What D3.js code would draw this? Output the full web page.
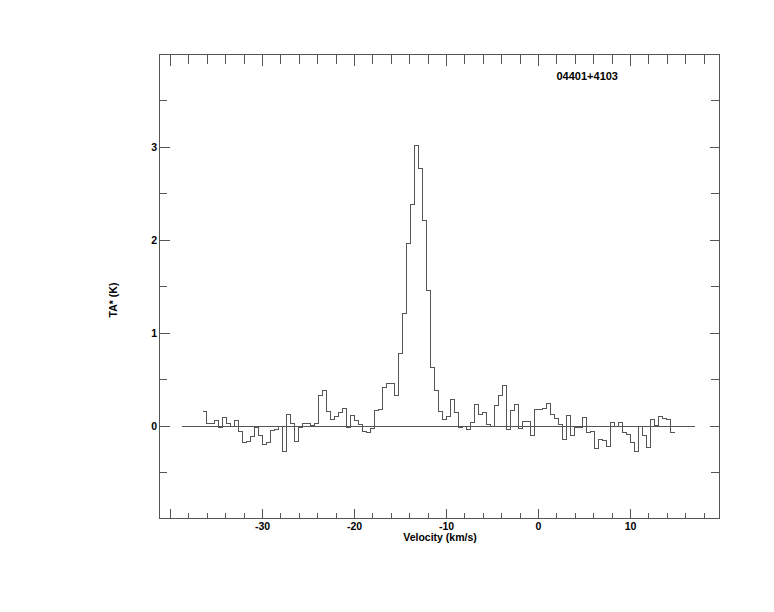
<!DOCTYPE html>
<html><head><meta charset="utf-8">
<script src="https://cdn.jsdelivr.net/npm/d3@7"></script>
<style>
html,body{margin:0;padding:0;background:#fff;}
text{font-family:"Liberation Sans",Arial,sans-serif;font-weight:bold;fill:#000;}
</style></head>
<body>
<script>
// ---- data ----
const sourceName = "04401+4103";
const xLabel = "Velocity (km/s)";
const yLabel = "TA* (K)";
const xTickLabels = [-30, -20, -10, 0, 10];
const yTickLabels = [0, 1, 2, 3];
const xMinorTicks = [-40,-38,-36,-34,-32,-30,-28,-26,-24,-22,-20,-18,-16,-14,-12,-10,-8,-6,-4,-2,0,2,4,6,8,10,12,14,16,18];
const yMinorTicks = [-0.5, 0, 0.5, 1, 1.5, 2, 2.5, 3, 3.5];
const baselineRange = [-38.7, 17.0];
const firstChannelEdge = -36.52;   // km/s, left edge of first channel
const channelWidth = 0.4348;       // km/s
const intensity = [
 0.16,0.03,0.03,0.065,-0.01,0.10,0.03,0.0,0.065,-0.054,
 -0.17,-0.16,-0.11,-0.01,-0.10,-0.19,-0.17,-0.043,-0.03,0.0,
 -0.27,0.13,0.03,-0.16,-0.01,0.03,0.03,0.01,0.03,0.334,
 0.39,0.16,0.075,0.11,0.15,0.19,-0.01,0.12,0.065,0.02,
 -0.054,-0.065,-0.02,0.17,0.18,0.42,0.46,0.46,0.33,0.78,
 1.22,1.97,2.39,3.02,2.77,2.21,1.46,0.63,0.39,0.16,
 0.075,0.11,0.29,0.15,-0.01,0.0,-0.03,0.043,0.237,0.13,
 0.15,0.02,0.0,0.226,0.334,0.44,-0.03,0.17,0.237,-0.02,
 0.054,0.054,-0.097,0.18,0.18,0.19,0.25,0.13,0.086,0.02,
 -0.14,0.12,-0.097,-0.01,-0.01,0.10,-0.065,-0.054,-0.24,-0.14,
 -0.15,-0.215,0.043,0.0,0.043,-0.065,-0.086,-0.17,-0.27,0.0,
 -0.097,-0.226,0.075,0.01,0.11,0.086,0.075,-0.065
];

// ---- layout ----
const W = 774, H = 612;
const L = 159.5, R = 719.5, T = 54.5, B = 518.5;
const col = "#555";

const svg = d3.select("body").append("svg").attr("width", W).attr("height", H);

const x = d3.scaleLinear().domain([(L-538.5)/9.2, (R-538.5)/9.2]).range([L, R]);
const y = d3.scaleLinear().domain([-0.99, 4.0]).range([B, T]);

// frame
svg.append("rect").attr("x", L).attr("y", T).attr("width", R-L).attr("height", B-T)
  .attr("fill", "none").attr("stroke", col).attr("stroke-width", 1);

const g = svg.append("g").attr("stroke", col).attr("stroke-width", 1).attr("shape-rendering", "crispEdges");

const isMajorX = v => Math.abs(v % 10) < 1e-9;
const isMajorY = v => Math.abs(v - Math.round(v)) < 1e-9;

// bottom + top x ticks
xMinorTicks.filter(v => x(v) > L + 1 && x(v) < R - 1).forEach(v => {
  const px = Math.round(x(v) - 0.5) + 0.5;
  const maj = isMajorX(v);
  g.append("line").attr("x1", px).attr("x2", px).attr("y1", B).attr("y2", B - (maj ? 10 : 6));
  g.append("line").attr("x1", px).attr("x2", px).attr("y1", T).attr("y2", T + (maj ? 11 : 9));
});
// left + right y ticks
yMinorTicks.forEach(v => {
  const py = Math.round(y(v) - 0.5) + 0.5;
  const maj = isMajorY(v);
  g.append("line").attr("y1", py).attr("y2", py).attr("x1", L).attr("x2", L + (maj ? 10 : 7));
  g.append("line").attr("y1", py).attr("y2", py).attr("x1", R).attr("x2", R - (maj ? 10 : 9));
});

// x-axis tick labels
svg.append("g").selectAll("text").data(xTickLabels).join("text")
  .attr("x", d => x(d)).attr("y", 530).attr("text-anchor", "middle")
  .attr("font-size", 10.5).text(d => d);
// y-axis tick labels
svg.append("g").selectAll("text").data(yTickLabels).join("text")
  .attr("x", 157).attr("y", d => y(d) + 4).attr("text-anchor", "end")
  .attr("font-size", 10.5).text(d => d);

// axis titles
svg.append("text").attr("x", 440).attr("y", 541).attr("text-anchor", "middle")
  .attr("font-size", 10.5).text(xLabel);
svg.append("text").attr("transform", "translate(117,300) rotate(-90)")
  .attr("text-anchor", "middle").attr("font-size", 10.5).text(yLabel);
// source name
svg.append("text").attr("x", 556.5).attr("y", 80).attr("font-size", 11).text(sourceName);

// baseline
const by = Math.round(y(0) - 0.5) + 0.5;
g.append("line").attr("x1", x(baselineRange[0])).attr("x2", x(baselineRange[1]))
  .attr("y1", by).attr("y2", by);

// spectrum as step histogram
const pts = intensity.map((v, i) => [firstChannelEdge + i * channelWidth, v]);
pts.push([firstChannelEdge + intensity.length * channelWidth, intensity[intensity.length - 1]]);
const line = d3.line()
  .x(d => Math.round(x(d[0]) - 0.5) + 0.5)
  .y(d => Math.round(y(d[1]) - 0.5) + 0.5)
  .curve(d3.curveStepAfter);
svg.append("path").datum(pts).attr("d", line)
  .attr("fill", "none").attr("stroke", col).attr("stroke-width", 1)
  .attr("shape-rendering", "crispEdges");
</script>
</body></html>
